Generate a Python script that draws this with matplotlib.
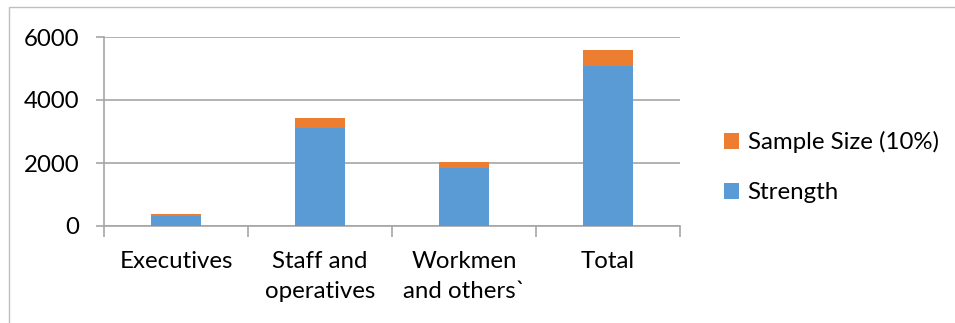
import matplotlib
matplotlib.use("Agg")
import matplotlib.pyplot as plt
import numpy as np
from matplotlib.patches import Rectangle

categories = ['Executives', 'Staff and\noperatives', 'Workmen\nand others`', 'Total']
strength = [330, 3110, 1840, 5080]
sample_size = [55, 311, 184, 508]

plt.rcParams['font.family'] = ['Lato', 'DejaVu Sans']

blue = '#5B9BD5'
orange = '#ED7D31'
grid = '#A6A6A6'
fs = 17.3

fig = plt.figure(figsize=(9.55, 3.23), dpi=100)
ax = fig.add_axes([104 / 955, 1 - 226 / 323, 576 / 955, 189 / 323])

x = np.arange(len(categories))
b1 = ax.bar(x, strength, width=0.35, color=blue, label='Strength', zorder=3)
b2 = ax.bar(x, sample_size, width=0.35, bottom=strength, color=orange,
            label='Sample Size (10%)', zorder=3)

ax.set_xlim(-0.5, len(categories) - 0.5)
ax.set_ylim(0, 6000)
ax.set_yticks([0, 2000, 4000, 6000])
ax.yaxis.grid(True, color=grid, linewidth=1.2, zorder=0)

ax.set_xticks(x)
ax.set_xticklabels(categories, fontsize=fs, linespacing=1.5)
ax.set_xticks(np.arange(-0.5, len(categories)), minor=True)
ax.tick_params(axis='x', which='major', length=0, pad=18)
ax.tick_params(axis='x', which='minor', length=8, color=grid, width=1.2)
ax.tick_params(axis='y', length=6, color=grid, width=1.2, pad=12, labelsize=fs)

for s in ['top', 'right']:
    ax.spines[s].set_visible(False)
for s in ['left', 'bottom']:
    ax.spines[s].set_color(grid)
    ax.spines[s].set_linewidth(1.2)

ax.legend([b2, b1], ['Sample Size (10%)', 'Strength'], loc='center left',
          bbox_to_anchor=(702 / 955, 1 - 167 / 323), bbox_transform=fig.transFigure,
          frameon=False, fontsize=fs, handlelength=0.65, handleheight=0.65,
          handletextpad=0.35, labelspacing=1.2)

# outer chart frame
fig.patches.append(Rectangle((9 / 955, -0.1), 1.0, 1 - 7 / 323 + 0.1, transform=fig.transFigure,
                             fill=False, edgecolor='#BFBFBF', linewidth=1))

fig.savefig('out.png', dpi=100)
